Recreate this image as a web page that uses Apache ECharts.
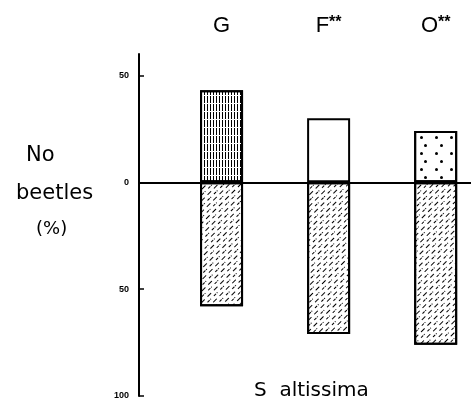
<!DOCTYPE html>
<html>
<head>
<meta charset="utf-8">
<script src="https://cdn.jsdelivr.net/npm/echarts@6/dist/echarts.min.js"></script>
<style>html,body{margin:0;padding:0;background:#fff}#c{width:471px;height:401px}</style>
</head>
<body>
<div id="c"></div>
<script>
const categories = ['G', 'F', 'O'];
const significance = ['', '**', '**'];
const positions = [1, 2, 3];
const upperValues = [43, 30, 24];
const lowerValues = [58, 71, 76];
const yMin = -100, yMax = 60, yInterval = 50;

const upperDecals = [
  {symbol: 'rect', symbolSize: 1, dashArrayX: [1, 2], dashArrayY: [7, 1], color: '#000'},
  null,
  {symbol: 'circle', symbolSize: 1, dashArrayX: [[3, 12], [0, 7.5, 3, 4.5]], dashArrayY: [3, 5], color: '#000'}
];
const lowerDecal = {symbol: 'rect', symbolSize: 1, dashArrayX: [[5, 4], [1, 4, 3, 1]], dashArrayY: [1, 3], rotation: -Math.PI / 4, color: '#000'};

const chart = echarts.init(document.getElementById('c'), null, {renderer: 'canvas'});
const barStyle = {color: '#fff', borderColor: '#000', borderWidth: 2};
const option = {
  animation: false,
  backgroundColor: '#fff',
  grid: [
    {left: 114.5, right: 0, top: 54, bottom: 5},
    {left: 139, right: 0, top: 54, bottom: 5}
  ],
  xAxis: [
    {type: 'value', gridIndex: 0, min: 0, max: 3.33, show: false},
    {type: 'value', gridIndex: 0, position: 'top', min: 0, max: 3.33, interval: 1,
     axisLine: {show: false}, axisTick: {show: false}, splitLine: {show: false},
     axisLabel: {margin: 17, showMaxLabel: false, showMinLabel: false,
       formatter: v => { const i = positions.indexOf(v); return i < 0 ? '' : categories[i] + (significance[i] ? '{s|' + significance[i] + '}' : ''); },
       fontFamily: 'Liberation Sans', fontSize: 22, color: '#000',
       rich: {s: {fontFamily: 'Liberation Sans', fontSize: 16, fontWeight: 'bold', verticalAlign: 'top', color: '#000'}}}},
    {type: 'value', gridIndex: 1, min: 0, max: 1,
     axisLine: {show: true, onZero: true, lineStyle: {color: '#000', width: 2}},
     axisTick: {show: false}, axisLabel: {show: false}, splitLine: {show: false}}
  ],
  yAxis: [
    {type: 'value', gridIndex: 0, min: yMin, max: yMax, interval: yInterval, show: false},
    {type: 'value', gridIndex: 1, min: yMin, max: yMax, interval: yInterval,
     axisLine: {show: true, onZero: false, lineStyle: {color: '#000', width: 2}},
     axisTick: {show: true, inside: true, length: 5, lineStyle: {color: '#000', width: 1.5}},
     splitLine: {show: false},
     axisLabel: {margin: 10, showMaxLabel: false, formatter: v => String(Math.abs(v)),
       fontFamily: 'Liberation Sans Narrow, Liberation Sans', fontWeight: 'bold', fontSize: 9, color: '#000'}}
  ],
  series: [
    {type: 'bar', xAxisIndex: 0, yAxisIndex: 0, stack: 'b', barWidth: 43, itemStyle: barStyle,
     data: positions.map((p, i) => ({value: [p, upperValues[i]], itemStyle: upperDecals[i] ? {decal: upperDecals[i]} : {}}))},
    {type: 'bar', xAxisIndex: 0, yAxisIndex: 0, stack: 'b', barWidth: 43, itemStyle: Object.assign({decal: lowerDecal}, barStyle),
     data: positions.map((p, i) => [p, -lowerValues[i]])}
  ],
  graphic: [
    {type: 'text', left: 26, top: 145, style: {text: 'No', font: '21px "DejaVu Sans"', fill: '#000'}},
    {type: 'text', left: 16, top: 183, style: {text: 'beetles', font: '21px "DejaVu Sans"', fill: '#000'}},
    {type: 'text', left: 36, top: 220, style: {text: '(%)', font: '18px "DejaVu Sans"', fill: '#000'}},
    {type: 'text', left: 254, top: 381, style: {text: 'S  altissima', font: '20px "DejaVu Sans"', fill: '#000'}}
  ]
};
chart.setOption(option);
</script>
</body>
</html>
